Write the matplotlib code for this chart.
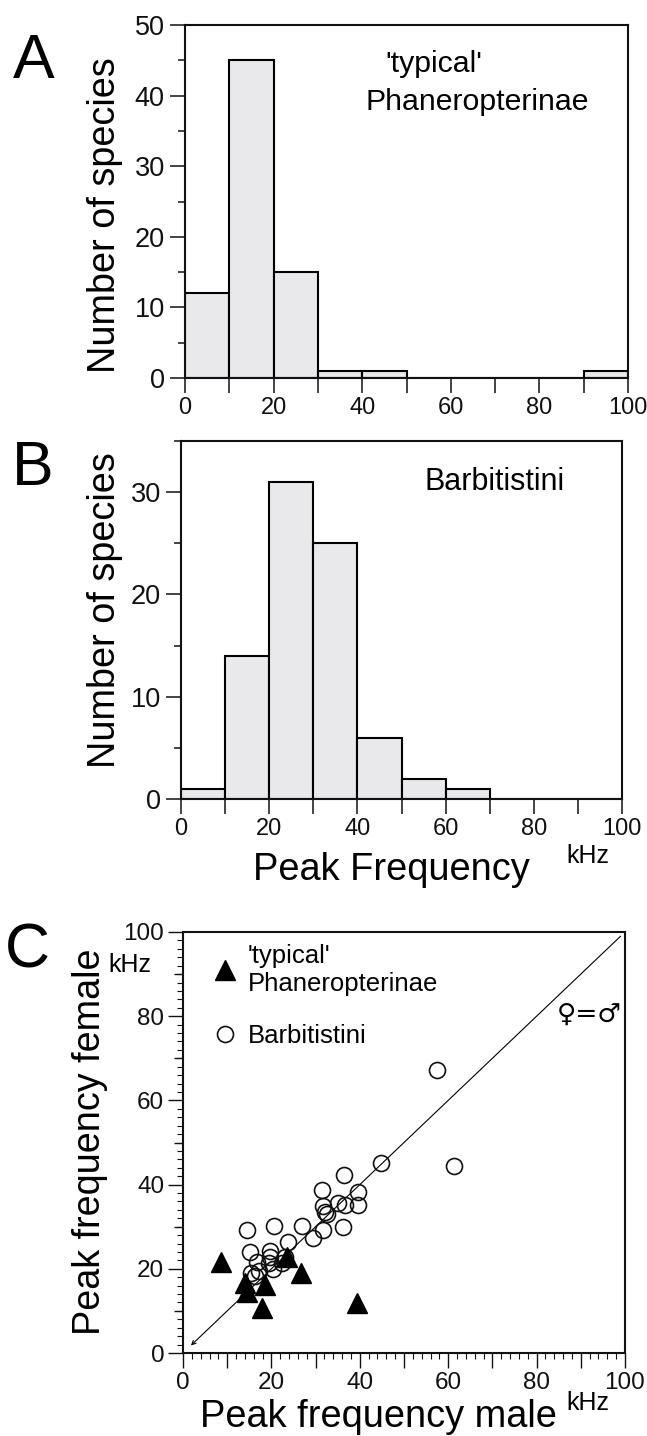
import matplotlib
matplotlib.use('Agg')
import matplotlib.pyplot as plt
from matplotlib.ticker import MultipleLocator, FuncFormatter
from matplotlib.lines import Line2D

plt.rcParams['font.family'] = ['Liberation Sans', 'DejaVu Sans']

W, H, DPI = 647, 1436, 100

# ---------------- data ----------------
bin_left = [0, 10, 20, 30, 40, 50, 60, 70, 80, 90]
counts_typical = [12, 45, 15, 1, 1, 0, 0, 0, 0, 1]
counts_barb = [1, 14, 31, 25, 6, 2, 1, 0, 0, 0]

typ_male = [8.6, 14.0, 14.4, 18.6, 17.8, 23.5, 26.7, 39.3]
typ_female = [21.7, 16.6, 14.6, 16.2, 10.6, 22.9, 18.9, 11.8]

barb_male = [57.4, 61.4, 44.9, 36.4, 31.5, 39.7, 39.7, 35.1, 36.6, 31.7,
             32.1, 32.5, 36.3, 31.7, 29.5, 26.9, 20.6, 14.4, 23.8, 15.2,
             19.7, 19.7, 23.0, 22.3, 16.7, 15.4, 16.2, 17.2, 20.3, 19.4]
barb_female = [67.3, 44.4, 45.2, 42.2, 38.6, 38.3, 35.2, 35.6, 35.2, 34.8,
               33.6, 33.0, 30.0, 29.2, 27.2, 30.1, 30.2, 29.2, 26.4, 24.1,
               24.3, 22.8, 22.8, 21.4, 21.6, 18.9, 18.2, 19.5, 19.9, 21.4]

# ---------------- layout helpers ----------------
fig = plt.figure(figsize=(W / DPI, H / DPI), dpi=DPI)
fig.patch.set_facecolor('white')


def px_rect(l, t, r, b):
    return [l / W, 1 - b / H, (r - l) / W, (b - t) / H]


def fx(x):
    return x / W


def fy(y):
    return 1 - y / H


axA = fig.add_axes(px_rect(185, 25, 628, 378))
axB = fig.add_axes(px_rect(181, 441, 622, 799))
axC = fig.add_axes(px_rect(183, 932, 625, 1353))

bar_fc = '#e9e9eb'
ink = '#111111'
lab20 = FuncFormatter(lambda v, p: f'{int(round(v))}' if int(round(v)) % 20 == 0 else '')

for ax, counts, ymax in [(axA, counts_typical, 50), (axB, counts_barb, 35)]:
    ax.bar(bin_left, counts, width=10, align='edge', facecolor=bar_fc,
           edgecolor='black', linewidth=1.5, zorder=2)
    ax.set_xlim(0, 100)
    ax.set_ylim(0, ymax)
    ax.xaxis.set_major_locator(MultipleLocator(10))
    ax.xaxis.set_major_formatter(lab20)
    ax.yaxis.set_major_locator(MultipleLocator(10))
    ax.yaxis.set_minor_locator(MultipleLocator(5))
    ax.tick_params(which='major', direction='out', length=10.5, width=1.1,
                   top=False, right=False, colors=ink)
    ax.tick_params(which='minor', direction='out', length=5, width=1.1,
                   top=False, right=False, colors=ink)
    ax.tick_params(axis='y', pad=4, labelsize=19.5)
    ax.tick_params(axis='x', pad=3, labelsize=17)
    for s in ax.spines.values():
        s.set_linewidth(1.5)
        s.set_color(ink)

# ---------------- panel C ----------------
axC.set_xlim(0, 100)
axC.set_ylim(0, 100)
axC.annotate('', xy=(1.8, 1.8), xytext=(99, 99),
             arrowprops=dict(arrowstyle='->', lw=0.8, color='black',
                             shrinkA=0, shrinkB=0, mutation_scale=7))
axC.plot(barb_male, barb_female, linestyle='none', marker='o', markersize=11.5,
         markerfacecolor='none', markeredgecolor=ink, markeredgewidth=1.2,
         zorder=3)
axC.plot(typ_male, typ_female, linestyle='none', marker='^', markersize=14,
         color='black', zorder=4)

axC.xaxis.set_major_locator(MultipleLocator(10))
axC.xaxis.set_major_formatter(lab20)
axC.xaxis.set_minor_locator(MultipleLocator(2))
axC.yaxis.set_major_locator(MultipleLocator(20))
axC.yaxis.set_minor_locator(MultipleLocator(2))
axC.tick_params(which='major', direction='out', length=10.5, width=1.0,
                labelsize=17.5, top=False, right=False, colors=ink)
axC.tick_params(which='minor', direction='out', length=4, width=0.8,
                top=False, right=False, colors=ink)
axC.tick_params(axis='y', pad=3)
axC.tick_params(axis='x', pad=3)
for s in axC.spines.values():
    s.set_linewidth(1.5)
    s.set_color(ink)

sec = axC.secondary_yaxis('left')
sec.set_yticks([10, 30, 50, 70, 90])
sec.tick_params(direction='out', length=6.5, width=1.0, labelleft=False, colors=ink)
sec.spines['left'].set_visible(False)

handles = [
    Line2D([], [], linestyle='none', marker='^', markersize=14, color='black'),
    Line2D([], [], linestyle='none', marker='o', markersize=11.5,
           markerfacecolor='none', markeredgecolor=ink, markeredgewidth=1.2),
]
leg = axC.legend(handles, ["'typical'\nPhaneropterinae", 'Barbitistini'],
                 loc='upper left', bbox_to_anchor=(0.068, 0.972),
                 frameon=False, fontsize=18.5, handlelength=0.95,
                 handletextpad=0.4, labelspacing=1.1, borderpad=0,
                 borderaxespad=0)

fig.text(fx(557), fy(1015), '\u2640=\u2642', fontsize=19, va='center', ha='left',
         family=['DejaVu Sans'])

# ---------------- texts ----------------
fig.text(fx(13), fy(78), 'A', fontsize=45, va='baseline', ha='left')
fig.text(fx(12), fy(485), 'B', fontsize=45, va='baseline', ha='left')
fig.text(fx(5), fy(967), 'C', fontsize=45, va='baseline', ha='left')

fig.text(fx(115), fy(215), 'Number of species', rotation=90, rotation_mode='anchor',
         ha='center', va='baseline', fontsize=27.3)
fig.text(fx(115), fy(610), 'Number of species', rotation=90, rotation_mode='anchor',
         ha='center', va='baseline', fontsize=27.3)
fig.text(fx(100), fy(1142), 'Peak frequency female', rotation=90,
         rotation_mode='anchor', ha='center', va='baseline', fontsize=27.2)

fig.text(fx(253), fy(880), 'Peak Frequency', fontsize=27.4, va='baseline', ha='left')
fig.text(fx(566), fy(863), 'kHz', fontsize=18, va='baseline', ha='left')
fig.text(fx(200), fy(1427), 'Peak frequency male', fontsize=27.4, va='baseline', ha='left')
fig.text(fx(566), fy(1410), 'kHz', fontsize=18, va='baseline', ha='left')
fig.text(fx(108), fy(972), 'kHz', fontsize=18, va='baseline', ha='left')

fig.text(fx(385), fy(72), "'typical'", fontsize=21.8, va='baseline', ha='left')
fig.text(fx(366), fy(110), 'Phaneropterinae', fontsize=21.8, va='baseline', ha='left')
fig.text(fx(425), fy(490), 'Barbitistini', fontsize=22, va='baseline', ha='left')

fig.savefig('out.png', dpi=DPI, facecolor='white')
